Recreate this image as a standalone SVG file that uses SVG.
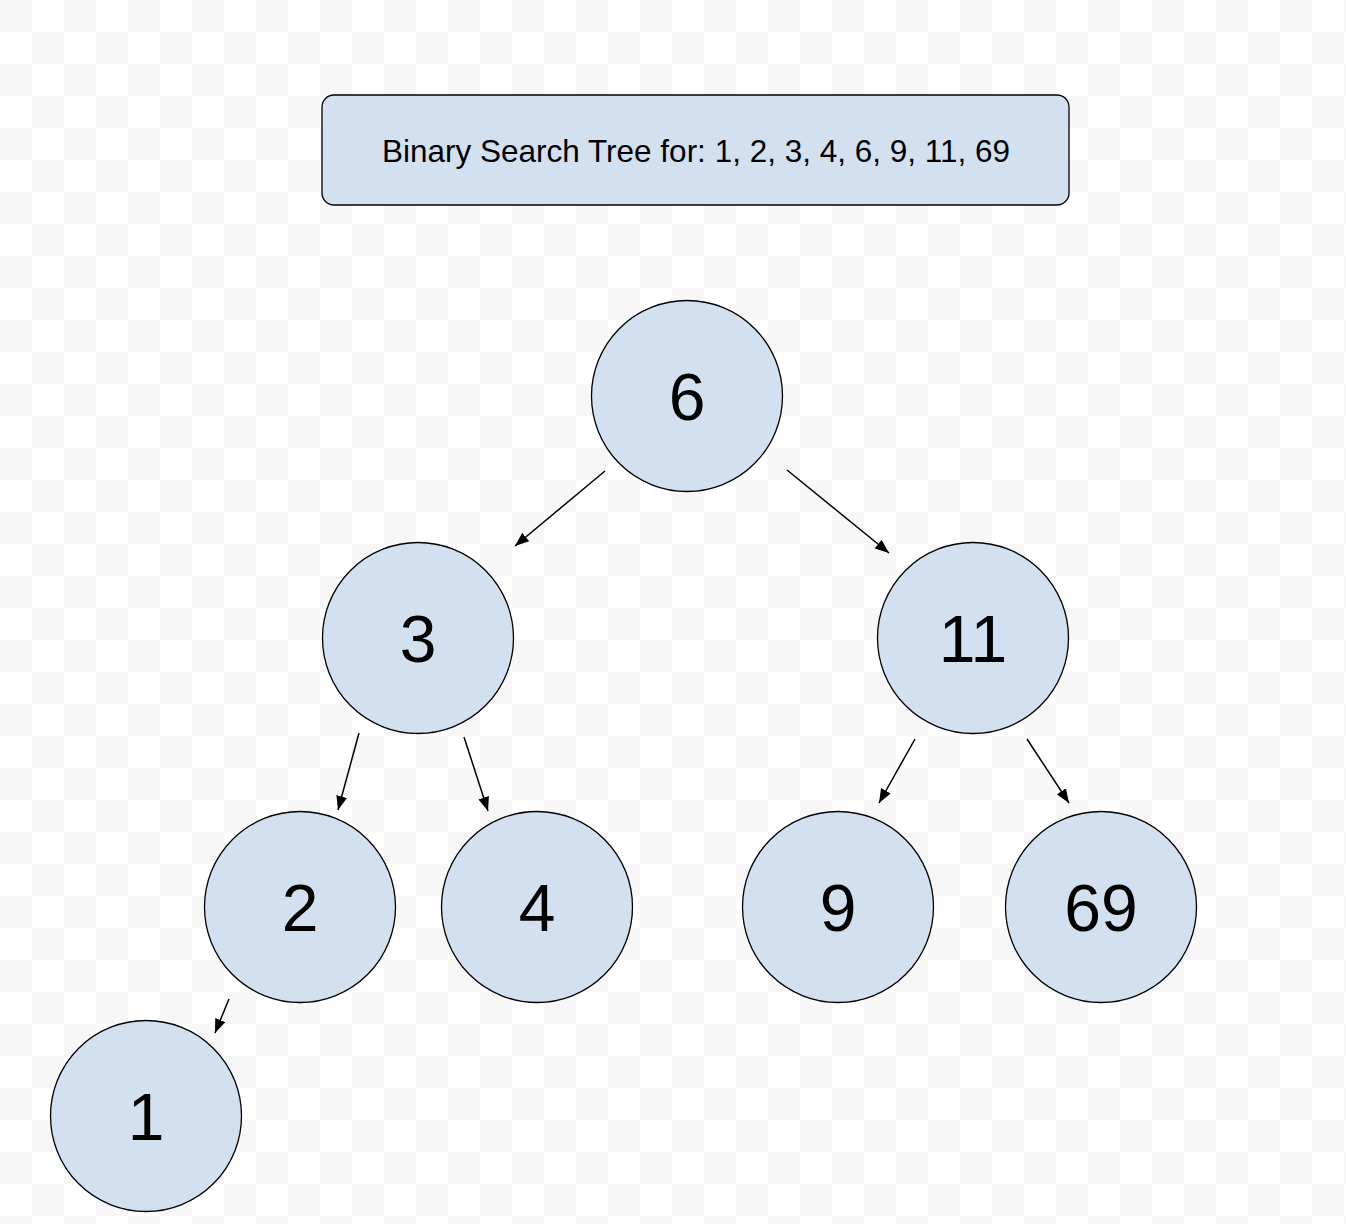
<svg xmlns="http://www.w3.org/2000/svg" width="1346" height="1224" viewBox="0 0 1346 1224">
<defs>
<pattern id="checker" x="0" y="0" width="64" height="64" patternUnits="userSpaceOnUse">
<rect width="64" height="64" fill="#ffffff"/>
<rect x="0" y="0" width="32" height="32" fill="#f7f7f7"/>
<rect x="32" y="32" width="32" height="32" fill="#f7f7f7"/>
</pattern>
<marker id="arrow" viewBox="0 0 14 11" refX="14" refY="5.5" markerWidth="14" markerHeight="11" markerUnits="userSpaceOnUse" orient="auto">
<path d="M0,0 L14,5.5 L0,11 Z" fill="#000"/>
</marker>
<style>
.node circle{fill:#d3e0f0;stroke:#000;stroke-width:1.3}
.node text{font-family:"Liberation Sans",Arial,sans-serif;font-size:66px;fill:#000;text-anchor:middle}
.title rect{fill:#d3e0f0;stroke:#000;stroke-width:1.3}
.title text{font-family:"Liberation Sans",Arial,sans-serif;font-size:31.5px;fill:#000;text-anchor:middle}
.edges line{stroke:#000;stroke-width:1.5;marker-end:url(#arrow)}
</style>
</defs>
<rect width="1346" height="1224" fill="url(#checker)"/>
<g id="title" class="title">
<rect x="322" y="95" width="747" height="110" rx="12" ry="12"/>
<text x="696" y="162">Binary Search Tree for: 1, 2, 3, 4, 6, 9, 11, 69</text>
</g>
<g id="connectors" class="edges">
<line x1="605" y1="471" x2="515" y2="546"/>
<line x1="787" y1="470" x2="889" y2="553"/>
<line x1="359" y1="733" x2="338" y2="810"/>
<line x1="464" y1="737" x2="488" y2="811"/>
<line x1="915" y1="739" x2="879" y2="803"/>
<line x1="1027" y1="739" x2="1069" y2="803"/>
<line x1="229" y1="999" x2="215" y2="1033"/>
</g>
<g id="node-6" class="node"><circle cx="687" cy="396" r="95.5"/><text x="687" y="420">6</text></g>
<g id="node-3" class="node"><circle cx="418" cy="638" r="95.5"/><text x="418" y="662">3</text></g>
<g id="node-11" class="node"><circle cx="973" cy="638" r="95.5"/><text x="973" y="662">11</text></g>
<g id="node-2" class="node"><circle cx="300" cy="907" r="95.5"/><text x="300" y="931">2</text></g>
<g id="node-4" class="node"><circle cx="537" cy="907" r="95.5"/><text x="537" y="931">4</text></g>
<g id="node-9" class="node"><circle cx="838" cy="907" r="95.5"/><text x="838" y="931">9</text></g>
<g id="node-69" class="node"><circle cx="1101" cy="907" r="95.5"/><text x="1101" y="931">69</text></g>
<g id="node-1" class="node"><circle cx="146" cy="1116" r="95.5"/><text x="146" y="1140">1</text></g>
</svg>
